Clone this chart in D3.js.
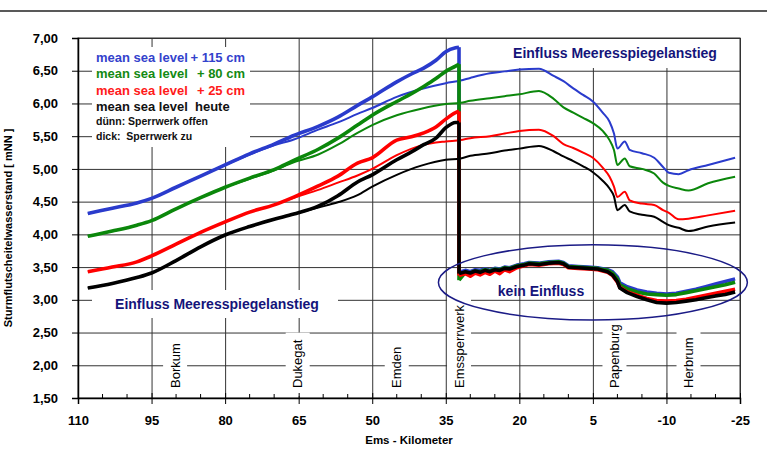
<!DOCTYPE html>
<html>
<head>
<meta charset="utf-8">
<script src="https://cdn.jsdelivr.net/npm/d3@7/dist/d3.min.js"></script>
<style>
body { margin: 0; background: #fff; }
text { font-family: "Liberation Sans", Arial, sans-serif; }
</style>
</head>
<body>
<script>
// axes
var xTicks = [110, 95, 80, 65, 50, 35, 20, 5, -10, -25];
var xMinor = [105, 100, 90, 85, 75, 70, 60, 55, 45, 40, 30, 25, 15, 10, 0, -5, -15, -20];
var yTicks = [1.5, 2, 2.5, 3, 3.5, 4, 4.5, 5, 5.5, 6, 6.5, 7];

// places along the Ems
var stations = ["Borkum", "Dukegat", "Emden", "Emssperrwerk", "Papenburg", "Herbrum"];
var stationKm = [90.2, 65.2, 45, 32.3, 0.6, -14.5];

// duenn: Sperrwerk offen
var kmOpen = [108, 103, 98, 95, 90, 85, 80, 75, 70, 66, 61, 57, 53, 50, 45, 40, 35, 32, 30, 26, 23, 20, 16, 13, 11, 9, 7, 5, 3, 1.6, 0.7, 0, -1.5, -2.5, -5, -7.5, -9.3, -10.5, -12.5, -14.5, -18.5, -24];
var blueOpen  = [4.32, 4.40, 4.48, 4.55, 4.72, 4.89, 5.06, 5.22, 5.36, 5.45, 5.60, 5.71, 5.84, 5.93, 6.10, 6.22, 6.31, 6.35, 6.39, 6.46, 6.49, 6.52, 6.53, 6.42, 6.34, 6.23, 6.13, 6.03, 5.86, 5.72, 5.54, 5.31, 5.42, 5.29, 5.24, 5.17, 5.03, 4.94, 4.92, 4.98, 5.06, 5.17];
var greenOpen = [3.97, 4.05, 4.14, 4.21, 4.39, 4.56, 4.72, 4.85, 4.98, 5.10, 5.22, 5.37, 5.55, 5.67, 5.82, 5.92, 5.99, 6.01, 6.04, 6.08, 6.11, 6.14, 6.19, 6.07, 5.94, 5.86, 5.78, 5.70, 5.58, 5.44, 5.29, 5.06, 5.16, 5.04, 5.00, 4.93, 4.79, 4.74, 4.70, 4.67, 4.78, 4.88];
var redOpen   = [3.43, 3.50, 3.58, 3.67, 3.85, 4.03, 4.19, 4.34, 4.45, 4.56, 4.68, 4.79, 4.90, 5.00, 5.21, 5.36, 5.42, 5.44, 5.47, 5.50, 5.54, 5.58, 5.60, 5.50, 5.38, 5.32, 5.25, 5.17, 5.02, 4.88, 4.73, 4.57, 4.65, 4.52, 4.47, 4.45, 4.37, 4.33, 4.23, 4.24, 4.29, 4.36];
var blackOpen = [3.18, 3.25, 3.34, 3.41, 3.60, 3.81, 3.99, 4.12, 4.23, 4.31, 4.41, 4.49, 4.60, 4.73, 4.91, 5.05, 5.14, 5.16, 5.20, 5.24, 5.28, 5.31, 5.35, 5.27, 5.19, 5.12, 5.04, 4.95, 4.82, 4.70, 4.58, 4.37, 4.45, 4.35, 4.30, 4.27, 4.19, 4.14, 4.10, 4.05, 4.12, 4.18];

// dick: Sperrwerk zu, seaward of the barrier
var kmClosed = [108, 103, 98, 95, 90, 85, 80, 75, 70, 66, 61, 57, 53, 50, 45, 42, 39.5, 37, 35, 33, 32.3];
var blueClosed  = [4.32, 4.40, 4.48, 4.55, 4.72, 4.89, 5.06, 5.23, 5.38, 5.51, 5.65, 5.79, 5.97, 6.10, 6.33, 6.45, 6.54, 6.66, 6.79, 6.85, 6.86];
var greenClosed = [3.97, 4.05, 4.14, 4.21, 4.39, 4.56, 4.72, 4.86, 4.99, 5.13, 5.30, 5.47, 5.67, 5.82, 6.03, 6.15, 6.26, 6.38, 6.49, 6.57, 6.60];
var redClosed   = [3.43, 3.50, 3.58, 3.67, 3.85, 4.03, 4.19, 4.34, 4.45, 4.57, 4.74, 4.89, 5.09, 5.17, 5.44, 5.49, 5.55, 5.64, 5.76, 5.86, 5.88];
var blackClosed = [3.18, 3.25, 3.34, 3.41, 3.60, 3.81, 3.99, 4.12, 4.23, 4.31, 4.43, 4.59, 4.80, 4.91, 5.14, 5.26, 5.37, 5.47, 5.63, 5.71, 5.71];

// dick: Sperrwerk zu, behind the barrier
var kmInner = [32.3, 31, 30, 29, 28, 27, 26, 25, 24, 23, 22, 20.5, 19, 18, 16, 14, 12, 11, 10, 8, 6, 4, 2, 1, 0, -0.5, -2, -4, -6, -8, -10, -12, -14, -16, -18, -20, -22, -24];
var blueInner  = [3.42, 3.45, 3.43, 3.46, 3.45, 3.47, 3.45, 3.48, 3.47, 3.50, 3.49, 3.53, 3.55, 3.57, 3.56, 3.58, 3.59, 3.57, 3.52, 3.51, 3.50, 3.49, 3.46, 3.43, 3.35, 3.26, 3.20, 3.15, 3.12, 3.10, 3.09, 3.10, 3.13, 3.16, 3.20, 3.24, 3.28, 3.32];
var greenInner = [3.30, 3.42, 3.41, 3.44, 3.43, 3.46, 3.44, 3.47, 3.46, 3.49, 3.48, 3.52, 3.54, 3.56, 3.55, 3.57, 3.58, 3.56, 3.51, 3.50, 3.49, 3.48, 3.45, 3.41, 3.32, 3.23, 3.17, 3.12, 3.09, 3.08, 3.07, 3.08, 3.11, 3.14, 3.17, 3.20, 3.23, 3.27];
var redInner   = [3.37, 3.40, 3.36, 3.41, 3.38, 3.42, 3.39, 3.44, 3.40, 3.46, 3.43, 3.49, 3.52, 3.54, 3.53, 3.55, 3.56, 3.54, 3.49, 3.48, 3.47, 3.46, 3.42, 3.37, 3.27, 3.19, 3.12, 3.07, 3.02, 2.99, 2.98, 2.99, 3.01, 3.04, 3.07, 3.10, 3.13, 3.16];
var blackInner = [3.40, 3.43, 3.41, 3.44, 3.42, 3.45, 3.43, 3.46, 3.45, 3.48, 3.47, 3.51, 3.53, 3.55, 3.54, 3.56, 3.57, 3.55, 3.50, 3.49, 3.48, 3.47, 3.43, 3.38, 3.28, 3.18, 3.11, 3.05, 3.00, 2.96, 2.95, 2.96, 2.98, 3.00, 3.03, 3.06, 3.08, 3.12];

var colors = {blue: "#2a3bcc", green: "#0b870b", red: "#ff0000", black: "#000000"};

var margin = {top: 38, left: 78},
    width = 662,
    height = 360;

var x = d3.scaleLinear().domain([110, -25]).range([0, width]);
var y = d3.scaleLinear().domain([1.5, 7]).range([height, 0]);

var svg = d3.select("body").append("svg")
    .attr("width", 767)
    .attr("height", 449);

// separator line at the very top
svg.append("line")
    .attr("x1", 0).attr("x2", 767)
    .attr("y1", 11).attr("y2", 11)
    .style("stroke", "#222").style("stroke-width", 1.5);

var graph = svg.append("g")
    .attr("transform", "translate(" + margin.left + "," + margin.top + ")");

// grid
graph.append("g")
    .attr("class", "grid")
    .call(d3.axisLeft(y).tickValues(yTicks).tickFormat("").tickSize(-width))
    .call(function (g) { g.select(".domain").remove(); })
    .selectAll("line").style("stroke", "#333").style("stroke-width", 1);

graph.append("g")
    .attr("class", "grid")
    .attr("transform", "translate(0," + height + ")")
    .call(d3.axisBottom(x).tickValues(xTicks).tickFormat("").tickSize(-height))
    .call(function (g) { g.select(".domain").remove(); })
    .selectAll("line").style("stroke", "#333").style("stroke-width", 1);

graph.append("rect")
    .attr("width", width).attr("height", height)
    .style("fill", "none").style("stroke", "#333").style("stroke-width", 1);

// white boxes that cut the grid
function whiteBox(x0, y0, w, h) {
    graph.append("rect")
        .attr("x", x0 - margin.left).attr("y", y0 - margin.top)
        .attr("width", w).attr("height", h)
        .style("fill", "#fff");
}
whiteBox(92, 47, 158, 100);    // legend
whiteBox(495, 39, 240, 29);    // top right note
whiteBox(92, 290, 246, 28);    // bottom left note

// station labels
var stationG = graph.selectAll(".station")
    .data(stations)
    .enter().append("g")
    .attr("class", "station")
    .attr("transform", function (d, i) {
        return "translate(" + x(stationKm[i]) + "," + (height - 10) + ")";
    });
stationG.append("text")
    .attr("transform", "rotate(-90)")
    .attr("dy", "0.35em")
    .style("font-size", "13px")
    .style("fill", "#000")
    .text(function (d) { return d; });
stationG.insert("rect", "text")
    .attr("x", -12)
    .attr("width", 24)
    .attr("y", function () {
        var len = d3.select(this.parentNode).select("text").node().getComputedTextLength();
        return -len - 7;
    })
    .attr("height", function () {
        var len = d3.select(this.parentNode).select("text").node().getComputedTextLength();
        return len + 15;
    })
    .style("fill", "#fff");

// curves
var smooth = d3.line()
    .x(function (d) { return x(d[0]); })
    .y(function (d) { return y(d[1]); })
    .curve(d3.curveMonotoneX);
var straight = d3.line()
    .x(function (d) { return x(d[0]); })
    .y(function (d) { return y(d[1]); });

function pairs(km, v) {
    return km.map(function (k, i) { return [k, v[i]]; });
}

var series = [
    {c: colors.blue,  open: blueOpen,  closed: blueClosed,  inner: blueInner},
    {c: colors.green, open: greenOpen, closed: greenClosed, inner: greenInner},
    {c: colors.red,   open: redOpen,   closed: redClosed,   inner: redInner},
    {c: colors.black, open: blackOpen, closed: blackClosed, inner: blackInner}
];

series.forEach(function (s) {
    graph.append("path")
        .attr("d", smooth(pairs(kmOpen, s.open)))
        .style("fill", "none").style("stroke", s.c).style("stroke-width", 2);
    var up = pairs(kmClosed, s.closed);
    var low = pairs(kmInner, s.inner);
    graph.append("path")
        .attr("d", smooth(up))
        .style("fill", "none").style("stroke", s.c).style("stroke-width", 3.6)
        .style("stroke-linejoin", "round");
    graph.append("path")
        .attr("d", straight([up[up.length - 1], low[0]]))
        .style("fill", "none").style("stroke", s.c).style("stroke-width", 3.6);
    graph.append("path")
        .attr("d", straight(low))
        .style("fill", "none").style("stroke", s.c).style("stroke-width", 3.6)
        .style("stroke-linejoin", "round");
});

// ellipse around the inner river
graph.append("ellipse")
    .attr("cx", x(5))
    .attr("cy", y(3.265))
    .attr("rx", x(-26.5) - x(5))
    .attr("ry", y(2.69) - y(3.265))
    .style("fill", "none").style("stroke", "#1b1b86").style("stroke-width", 1.5);

// notes
var navy = "#14147a";
graph.append("text")
    .attr("x", 615 - margin.left).attr("y", 58 - margin.top)
    .attr("text-anchor", "middle")
    .style("font-size", "14px").style("font-weight", "bold").style("fill", navy)
    .text("Einfluss Meeresspiegelanstieg");
graph.append("text")
    .attr("x", 217 - margin.left).attr("y", 309 - margin.top)
    .attr("text-anchor", "middle")
    .style("font-size", "14px").style("font-weight", "bold").style("fill", navy)
    .text("Einfluss Meeresspiegelanstieg");
graph.append("text")
    .attr("x", 541 - margin.left).attr("y", 296 - margin.top)
    .attr("text-anchor", "middle")
    .style("font-size", "14px").style("font-weight", "bold").style("fill", navy)
    .text("kein Einfluss");

// legend
var legend = svg.append("g").attr("transform", "translate(96,0)");
var legLeft = ["mean sea level", "mean sea level", "mean sea level", "mean sea level  heute"];
var legRight = ["+ 115 cm", "+ 80 cm", "+ 25 cm", ""];
var legColors = ["#3342cc", "#138a13", "#ff1a1a", "#111111"];
legLeft.forEach(function (t, i) {
    legend.append("text")
        .attr("y", 61.5 + i * 16.6)
        .style("font-size", "13px").style("font-weight", "bold")
        .style("fill", legColors[i]).style("white-space", "pre")
        .text(t);
    legend.append("text")
        .attr("x", 149).attr("y", 61.5 + i * 16.6)
        .attr("text-anchor", "end")
        .style("font-size", "13px").style("font-weight", "bold")
        .style("fill", legColors[i])
        .text(legRight[i]);
});
["dünn: Sperrwerk offen", "dick:  Sperrwerk zu"].forEach(function (t, i) {
    legend.append("text")
        .attr("y", 125 + i * 14.5)
        .style("font-size", "10.5px").style("font-weight", "bold")
        .style("fill", "#111").style("white-space", "pre")
        .text(t);
});

// axes
var yAxis = graph.append("g")
    .call(d3.axisLeft(y).tickValues(yTicks).tickSize(6).tickPadding(14)
        .tickFormat(function (d) { return d3.format(".2f")(d).replace(".", ","); }));
yAxis.selectAll("text").style("font-size", "13px").style("font-weight", "bold").style("fill", "#000");
yAxis.select(".domain").style("stroke-width", 1.5);

var xAxis = graph.append("g")
    .attr("transform", "translate(0," + height + ")")
    .call(d3.axisBottom(x).tickValues(xTicks).tickSize(6).tickPadding(12)
        .tickFormat(function (d) { return String(d); }));
xAxis.selectAll("text").style("font-size", "13px").style("font-weight", "bold").style("fill", "#000");
xAxis.selectAll(".tick line").attr("y1", -5);
xAxis.select(".domain").style("stroke-width", 1.5);

graph.append("g")
    .attr("transform", "translate(0," + height + ")")
    .selectAll("line")
    .data(xMinor)
    .enter().append("line")
    .attr("x1", function (d) { return x(d); })
    .attr("x2", function (d) { return x(d); })
    .attr("y1", -4).attr("y2", 0)
    .style("stroke", "#000");

// axis titles
svg.append("text")
    .attr("transform", "translate(12,228) rotate(-90)")
    .attr("text-anchor", "middle")
    .style("font-size", "11px").style("font-weight", "bold")
    .text("Sturmflutscheitelwasserstand [ mNN ]");
svg.append("text")
    .attr("x", 409).attr("y", 444)
    .attr("text-anchor", "middle")
    .style("font-size", "11.5px").style("font-weight", "bold")
    .text("Ems - Kilometer");
</script>
</body>
</html>
